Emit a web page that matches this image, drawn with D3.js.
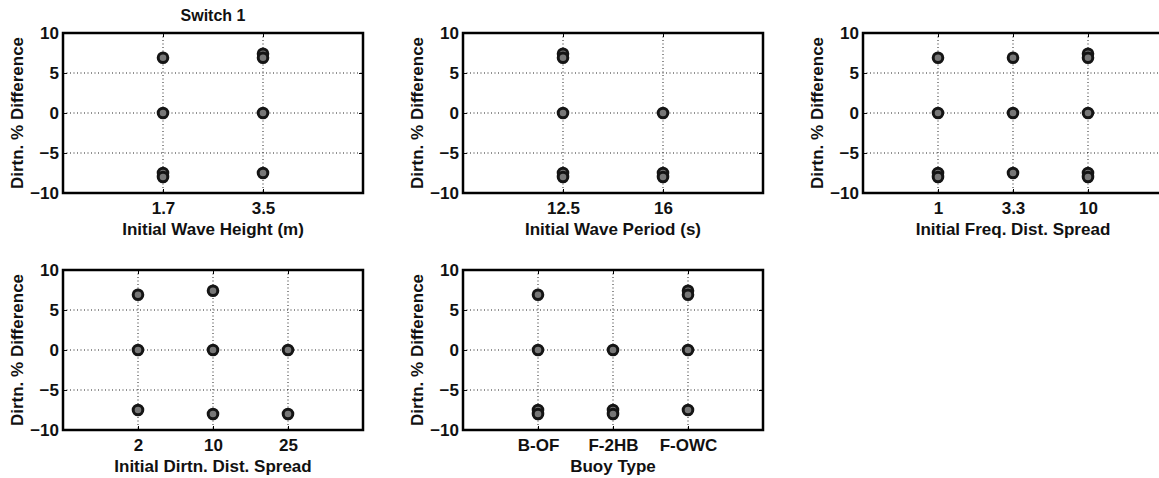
<!DOCTYPE html>
<html>
<head>
<meta charset="utf-8">
<script src="https://cdnjs.cloudflare.com/ajax/libs/d3/7.8.5/d3.min.js"></script>
<style>
	body { margin: 0; background: #fff; }
	text { font-family: "Liberation Sans", Arial, sans-serif; font-weight: bold; fill: #111; }
</style>
</head>
<body>
<script>
// shared y ticks
var yTicks = [-10, -5, 0, 5, 10];

// panel 1: wave height
var heightCats = ['1.7', '3.5'];
var heightVals = [[6.9, 0, -7.5, -8], [7.4, 6.9, 0, -7.5]];

// panel 2: wave period
var periodCats = ['12.5', '16'];
var periodVals = [[7.4, 6.9, 0, -7.5, -8], [0, -7.5, -8]];

// panel 3: freq spread
var freqCats = ['1', '3.3', '10'];
var freqVals = [[6.9, 0, -7.5, -8], [6.9, 0, -7.5], [7.4, 6.9, 0, -7.5, -8]];

// panel 4: dirtn spread
var dirCats = ['2', '10', '25'];
var dirVals = [[6.9, 0, -7.5], [7.4, 0, -8], [0, -8]];

// panel 5: buoy type
var buoyCats = ['B-OF', 'F-2HB', 'F-OWC'];
var buoyVals = [[6.9, 0, -7.5, -8], [0, -7.5, -8], [7.4, 6.9, 0, -7.5]];

var width = 1159,
	height = 478;

var pw = 300, // plot width
	ph = 160; // plot height

var panels = [
	{ left: 63, top: 33, cats: heightCats, vals: heightVals, xlabel: 'Initial Wave Height (m)', title: 'Switch 1' },
	{ left: 463, top: 33, cats: periodCats, vals: periodVals, xlabel: 'Initial Wave Period (s)' },
	{ left: 863, top: 33, cats: freqCats, vals: freqVals, xlabel: 'Initial Freq. Dist. Spread' },
	{ left: 63, top: 270, cats: dirCats, vals: dirVals, xlabel: 'Initial Dirtn. Dist. Spread' },
	{ left: 463, top: 270, cats: buoyCats, vals: buoyVals, xlabel: 'Buoy Type' }
];

var svg = d3.select('body')
	.append('svg')
	.attr('width', width)
	.attr('height', height);

panels.forEach(function(p) {
	var g = svg.append('g')
		.attr('transform', 'translate(' + p.left + ',' + p.top + ')');

	// x positions 1..n inside [0, n+1]
	var x = d3.scaleLinear()
		.domain([0, p.cats.length + 1])
		.range([0, pw]);

	var y = d3.scaleLinear()
		.domain([-10, 10])
		.range([ph, 0]);

	var xTicks = p.cats.map(function(d, i) { return i + 1; });

	// dotted grid
	g.selectAll('.hgrid')
		.data(yTicks.filter(function(d) { return d > -10 && d < 10; }))
		.enter().append('line')
		.attr('x1', 0).attr('x2', pw)
		.attr('y1', function(d) { return y(d); })
		.attr('y2', function(d) { return y(d); })
		.attr('stroke', '#222')
		.attr('stroke-width', 1)
		.attr('stroke-dasharray', '1,2.5');

	g.selectAll('.vgrid')
		.data(xTicks)
		.enter().append('line')
		.attr('x1', function(d) { return x(d); })
		.attr('x2', function(d) { return x(d); })
		.attr('y1', 0).attr('y2', ph)
		.attr('stroke', '#222')
		.attr('stroke-width', 1)
		.attr('stroke-dasharray', '1,2.5');

	// y axis labels and inward ticks
	var yAxis = d3.axisLeft(y)
		.tickValues(yTicks)
		.tickSize(-4)
		.tickPadding(4);
	var ya = g.append('g').call(yAxis);
	ya.select('.domain').remove();
	ya.selectAll('text').style('font-size', '17px');
	ya.selectAll('line').attr('stroke', '#111');

	g.append('g')
		.attr('transform', 'translate(' + pw + ',0)')
		.call(d3.axisRight(y).tickValues(yTicks).tickSize(-4).tickFormat(''))
		.call(function(s) { s.select('.domain').remove(); });

	// x axis labels and inward ticks
	var xAxis = d3.axisBottom(x)
		.tickValues(xTicks)
		.tickSize(-4)
		.tickPadding(9)
		.tickFormat(function(d) { return p.cats[d - 1]; });
	var xa = g.append('g')
		.attr('transform', 'translate(0,' + ph + ')')
		.call(xAxis);
	xa.select('.domain').remove();
	xa.selectAll('text').style('font-size', '17px');

	g.append('g')
		.call(d3.axisTop(x).tickValues(xTicks).tickSize(-4).tickFormat(''))
		.call(function(s) { s.select('.domain').remove(); });

	// points, flattened per category
	var pts = [];
	p.vals.forEach(function(arr, i) {
		arr.forEach(function(v) { pts.push({ x: i + 1, v: v }); });
	});

	g.selectAll('circle')
		.data(pts)
		.enter().append('circle')
		.attr('cx', function(d) { return x(d.x); })
		.attr('cy', function(d) { return y(d.v); })
		.attr('r', 4.8)
		.attr('fill', '#777')
		.attr('stroke', '#151515')
		.attr('stroke-width', 3);

	// box
	g.append('rect')
		.attr('width', pw)
		.attr('height', ph)
		.attr('fill', 'none')
		.attr('stroke', '#000')
		.attr('stroke-width', 2.5);

	// labels
	g.append('text')
		.attr('x', pw / 2)
		.attr('y', ph + 42)
		.attr('text-anchor', 'middle')
		.style('font-size', '17px')
		.text(p.xlabel);

	g.append('text')
		.attr('transform', 'translate(-46,' + (ph / 2) + ') rotate(-90)')
		.attr('text-anchor', 'middle')
		.attr('dy', '0.35em')
		.style('font-size', '17px')
		.text('Dirtn. % Difference');

	if (p.title) {
		g.append('text')
			.attr('x', pw / 2)
			.attr('y', -12)
			.attr('text-anchor', 'middle')
			.style('font-size', '16px')
			.text(p.title);
	}
});
</script>
</body>
</html>
